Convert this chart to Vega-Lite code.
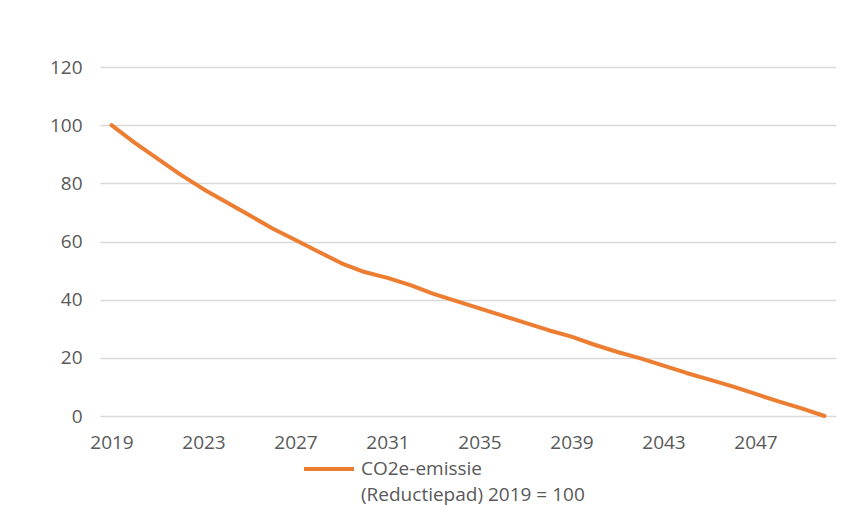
{
  "$schema": "https://vega.github.io/schema/vega-lite/v6.json",
  "width": 736,
  "height": 349,
  "autosize": "none",
  "padding": {"left": 100, "top": 67, "right": 23, "bottom": 105},
  "background": "white",
  "data": {
    "values": [
      {"year": 2019, "value": 100},
      {"year": 2020, "value": 94},
      {"year": 2021, "value": 88.5},
      {"year": 2022, "value": 83},
      {"year": 2023, "value": 78},
      {"year": 2024, "value": 73.5},
      {"year": 2025, "value": 69},
      {"year": 2026, "value": 64.5},
      {"year": 2027, "value": 60.5},
      {"year": 2028, "value": 56.5},
      {"year": 2029, "value": 52.5},
      {"year": 2030, "value": 49.5},
      {"year": 2031, "value": 47.5},
      {"year": 2032, "value": 45},
      {"year": 2033, "value": 42},
      {"year": 2034, "value": 39.5},
      {"year": 2035, "value": 37},
      {"year": 2036, "value": 34.5},
      {"year": 2037, "value": 32},
      {"year": 2038, "value": 29.5},
      {"year": 2039, "value": 27.3},
      {"year": 2040, "value": 24.5},
      {"year": 2041, "value": 22},
      {"year": 2042, "value": 19.8},
      {"year": 2043, "value": 17.3},
      {"year": 2044, "value": 14.8},
      {"year": 2045, "value": 12.5},
      {"year": 2046, "value": 10.2},
      {"year": 2047, "value": 7.6},
      {"year": 2048, "value": 5},
      {"year": 2049, "value": 2.6},
      {"year": 2050, "value": 0}
    ]
  },
  "mark": {"type": "line", "strokeWidth": 4, "strokeCap": "round", "strokeJoin": "round"},
  "encoding": {
    "x": {
      "field": "year",
      "type": "ordinal",
      "scale": {"type": "point", "padding": 0.5},
      "axis": {
        "title": null,
        "values": [2019, 2023, 2027, 2031, 2035, 2039, 2043, 2047],
        "labelAngle": 0,
        "domain": false,
        "ticks": false,
        "grid": false,
        "labelPadding": 17
      }
    },
    "y": {
      "field": "value",
      "type": "quantitative",
      "scale": {"domain": [0, 120], "nice": false, "zero": true},
      "axis": {
        "title": null,
        "values": [0, 20, 40, 60, 80, 100, 120],
        "domain": false,
        "ticks": false,
        "grid": true,
        "labelPadding": 18
      }
    },
    "color": {
      "datum": "CO2e-emissie (Reductiepad) 2019 = 100",
      "type": "nominal",
      "scale": {"range": ["#ED7D31"]},
      "legend": {
        "title": null,
        "orient": "none",
        "legendX": 202,
        "legendY": 375,
        "symbolType": "stroke",
        "symbolSize": 2500,
        "symbolStrokeWidth": 4,
        "labelOffset": 5,
        "labelLimit": 400,
        "labelBaseline": "middle",
        "labelExpr": "['CO2e-emissie', '(Reductiepad) 2019 = 100']"
      }
    }
  },
  "config": {
    "view": {"stroke": null},
    "font": "Open Sans",
    "axis": {
      "labelFont": "Open Sans",
      "labelFontSize": 19,
      "labelColor": "#595959",
      "gridColor": "#D9D9D9",
      "gridWidth": 1.3,
      "gridOpacity": 1
    },
    "legend": {
      "labelFont": "Open Sans",
      "labelFontSize": 19,
      "labelColor": "#595959"
    },
    "style": {"guide-label": {"lineHeight": 26}}
  }
}
